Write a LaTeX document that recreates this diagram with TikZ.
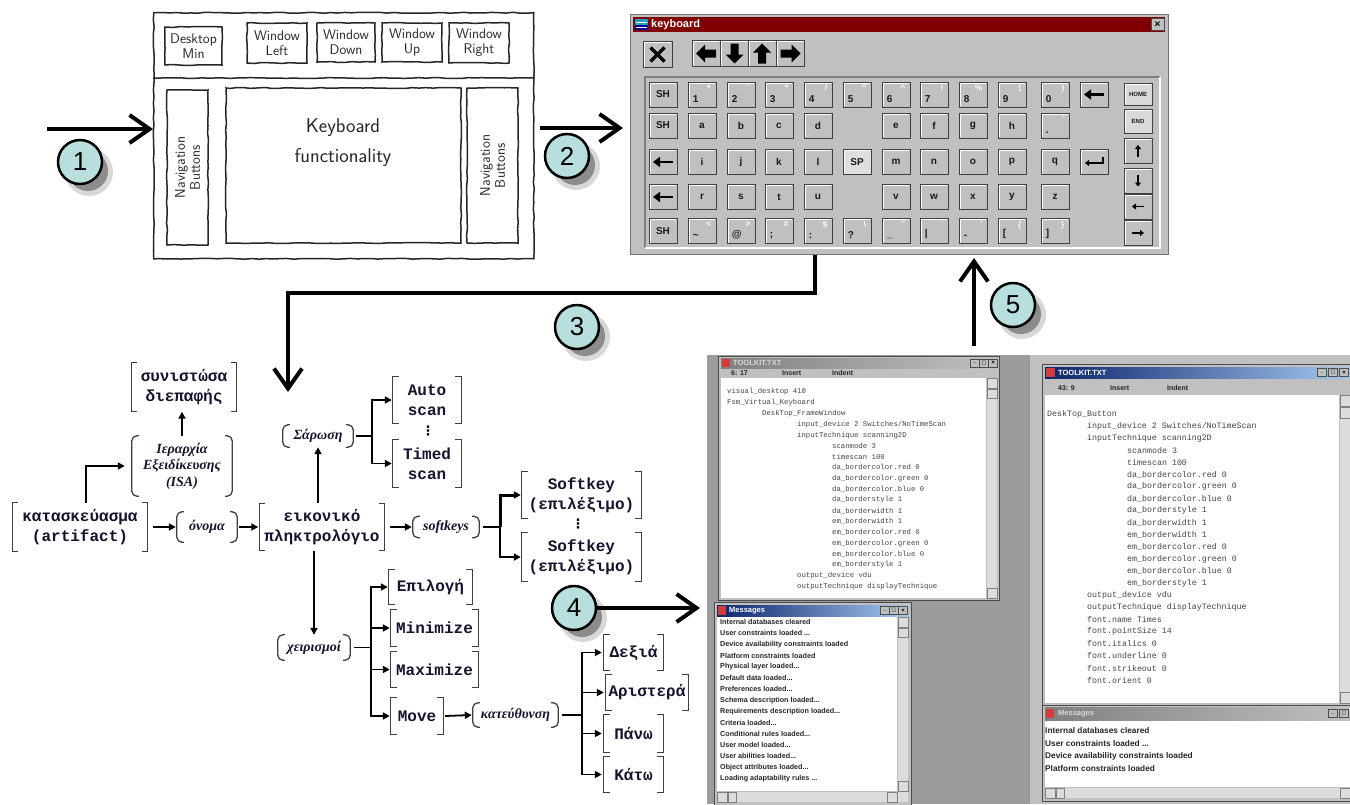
\documentclass[tikz,border=0pt]{standalone}
\usepackage{fontspec}
\usetikzlibrary{arrows.meta,decorations.pathmorphing,calc}
\newfontfamily\kbsans{Liberation Sans}
\newfontfamily\kbmono{Liberation Mono}
\newfontfamily\kbserif{Liberation Serif}
\newfontfamily\kbdejavu{DejaVu Sans}

\definecolor{kgray}{HTML}{C0C0C0}
\definecolor{kdark}{HTML}{808080}
\definecolor{titlered}{HTML}{800000}
\definecolor{numfill}{HTML}{B8DEDE}
\definecolor{treetext}{HTML}{14142E}
\definecolor{winblue}{HTML}{0A246A}
\definecolor{winblue2}{HTML}{A6CAF0}
\definecolor{codegray}{HTML}{444444}
\definecolor{shotbg}{HTML}{9C9C9C}
\definecolor{iconred}{HTML}{D23C3C}
\definecolor{iconteal}{HTML}{20A0C0}
\definecolor{scrollgray}{HTML}{DCDCDC}

\tikzset{
  sketch/.style={draw=black!85, line width=1.5pt, inner sep=1pt, decorate,
    decoration={random steps, segment length=7pt, amplitude=0.5pt}},
  hand/.style={font=\sffamily\fontsize{14}{15}\selectfont, align=center, text=black!85},
  flow/.style={line width=4pt, -{Straight Barb[length=20pt,width=28pt]}},
  numc/.style={circle, draw=black, line width=2.5pt, fill=numfill, minimum size=44pt,
    inner sep=0pt, font=\kbsans\fontsize{26}{26}\selectfont},
  key/.style={fill=kgray, draw=black!75, line width=0.8pt, minimum width=28pt,
    minimum height=25pt, inner sep=0pt,
    font=\kbsans\bfseries\fontsize{10}{10}\selectfont, text=black!90,
    path picture={\draw[white, line width=1.6pt]
      ([shift={(1pt,1pt)}]path picture bounding box.south west) |-
      ([shift={(-1pt,-1pt)}]path picture bounding box.north east);}},
  supch/.style={font=\kbsans\bfseries\fontsize{8}{8}\selectfont, text=white, inner sep=0pt},
  mainch/.style={font=\kbsans\bfseries\fontsize{10}{10}\selectfont, text=black!90, inner sep=0pt},
  karr/.style={line width=2.4pt, -{Triangle[length=7pt,width=10pt]}},
  narr/.style={line width=1.3pt, -{Triangle[length=4pt,width=6pt]}},
  tbtn/.style={fill=kgray, draw=black!70, line width=0.5pt, minimum width=9pt,
    minimum height=8pt, inner sep=0pt, font=\kbsans\bfseries\fontsize{6}{6}\selectfont},
  cbox/.style={inner sep=0pt, align=center, text=treetext,
    font=\kbmono\bfseries\fontsize{16}{20}\selectfont},
  rbox/.style={inner sep=0pt, align=center, text=treetext,
    font=\kbserif\bfseries\itshape\fontsize{14}{16.5}\selectfont},
  brk/.style={line width=1.3pt, draw=black!75},
  arr/.style={line width=1.8pt, -{Triangle[length=7pt,width=7pt]}},
  link/.style={line width=1.4pt},
  vdots/.style={inner sep=0pt, font=\kbdejavu\bfseries\fontsize{13}{13}\selectfont},
  win/.style={fill=kgray, draw=black!70, line width=0.8pt, inner sep=0pt, anchor=north west},
  codeA/.style={inner sep=0pt, text=codegray, font=\kbmono\fontsize{7.3}{8}\selectfont},
  codeB/.style={inner sep=0pt, text=codegray, font=\kbmono\fontsize{8.3}{9}\selectfont},
  msgA/.style={inner sep=0pt, text=black!85, font=\kbsans\bfseries\fontsize{7.2}{8}\selectfont},
  msgB/.style={inner sep=0pt, text=black!85, font=\kbsans\bfseries\fontsize{8.3}{9}\selectfont},
  stat/.style={inner sep=0pt, text=black!85, font=\kbsans\bfseries\fontsize{7}{8}\selectfont},
  wtitle/.style={inner sep=0pt, anchor=west, font=\kbsans\bfseries\fontsize{7.5}{8}\selectfont},
}

\newcommand\kkey[4]{\node[key] (#1) at (#2,#3) {#4};}
\newcommand\nkey[5]{%
  \node[key] (#1) at (#2,#3) {};
  \node[mainch, anchor=south west] (#1m) at ([shift={(5pt,5pt)}]#1.south west) {#4};
  \node[supch, anchor=north east] (#1s) at ([shift={(-5pt,-3pt)}]#1.north east) {#5};}
\newcommand\codeA[3]{\node[codeA, anchor=west] (ca#1) at ({727+35*#2},{392+10.8*#1}) {#3};}
\newcommand\codeB[3]{\node[codeB, anchor=west] (cb#1) at ({1047+40*#2},{414+12.1*#1}) {#3};}
\newcommand\msgA[2]{\node[msgA, anchor=west] (ma#1) at (720,{622+11.2*#1}) {#2};}
\newcommand\msgB[2]{\node[msgB, anchor=west] (mb#1) at (1045,{731+12.6*#1}) {#2};}
\newcommand\badge[4]{%
  \fill[black!25, opacity=0.6] ($(#2,#3)+(9,10)$) circle (24pt);
  \fill[black!45] ($(#2,#3)+(8,9)$) circle (20pt);
  \node[numc] (#1) at (#2,#3) {#4};}

\begin{document}
\begin{tikzpicture}[x=1pt, y=-1pt]
\useasboundingbox (0,0) rectangle (1350,804);
\fill[white] (0,0) rectangle (1350,804);

% ================= hand-drawn sketch of the layout =================
\pgfmathsetseed{11}
\node[sketch, minimum width=380pt, minimum height=246pt, anchor=north west] (sk) at (153,12) {};
\coordinate (divy) at (0,78);
\draw[sketch] (sk.west |- divy) -- (sk.east |- divy);
\node[sketch, hand, minimum width=57pt, minimum height=38pt] (dmin) at (193.5,46) {Desktop\\Min};
\node[sketch, hand, minimum width=60pt, minimum height=40pt] (wl) at (277,43) {Window\\Left};
\node[sketch, hand, minimum width=58pt, minimum height=39pt] (wd) at (346,42.5) {Window\\Down};
\node[sketch, hand, minimum width=60pt, minimum height=39pt] (wu) at (412,42.5) {Window\\Up};
\node[sketch, hand, minimum width=60pt, minimum height=40pt] (wr) at (479,43) {Window\\Right};
\node[sketch, minimum width=41pt, minimum height=155pt] (lnav) at (187.5,167.5) {};
\node[hand, rotate=90] (lnavt) at (lnav.center) {Navigation\\Buttons};
\node[sketch, minimum width=235pt, minimum height=155pt] (kb) at (343.5,165.5) {};
\node[hand, font=\sffamily\fontsize{20}{30}\selectfont] (kbt) at (343,143) {Keyboard\\functionality};
\node[sketch, minimum width=51pt, minimum height=155pt] (rnav) at (492.5,165.5) {};
\node[hand, rotate=90] (rnavt) at (rnav.center) {Navigation\\Buttons};

% ================= virtual keyboard window =================
\node[fill=kgray, draw=black!55, line width=1pt, minimum width=538pt, minimum height=240pt,
      inner sep=0pt, anchor=north west] (kbwin) at (630,14) {};
\fill[titlered] (633,17) rectangle (1165,32);
\fill[iconteal] (635,19) rectangle (648,30);
\fill[blue!60!black] (635,25) rectangle (648,30);
\draw[white, line width=0.6pt] (636,22) -- (647,22) (636,27.5) -- (647,27.5);
\node[anchor=west, text=white, font=\kbsans\bfseries\fontsize{11}{11}\selectfont, inner sep=0pt]
  (kbtitle) at (651,24.5) {keyboard};
\node[tbtn, minimum width=13pt, minimum height=12pt, font=\kbsans\bfseries\fontsize{10}{10}\selectfont]
  (kbclose) at (1157.5,24.5) {×};

% toolbar
\node[key, minimum width=29pt, minimum height=26pt] (tbx) at (657.5,54.5) {};
\draw[line width=3.2pt] ([shift={(-7pt,-7pt)}]tbx.center) -- ([shift={(7pt,7pt)}]tbx.center)
  ([shift={(-7pt,7pt)}]tbx.center) -- ([shift={(7pt,-7pt)}]tbx.center);
\node[key, minimum width=28pt, minimum height=26pt] (tbl) at (706,53.5) {};
\node[key, minimum width=28pt, minimum height=26pt] (tbd) at (734.5,53.5) {};
\node[key, minimum width=28pt, minimum height=26pt] (tbu) at (762,53.5) {};
\node[key, minimum width=28pt, minimum height=26pt] (tbr) at (790.5,53.5) {};
\foreach \b/\r in {tbl/0, tbd/90, tbu/-90, tbr/180}
  \fill[black, shift={(\b.center)}, rotate=\r] (-10pt,0pt) -- (-1pt,-9pt) -- (-1pt,-4pt)
    -- (10pt,-4pt) -- (10pt,4pt) -- (-1pt,4pt) -- (-1pt,9pt) -- cycle;

% sunken key panel
\draw[kdark, line width=1.2pt] (645,248) -- (645,77) -- (1160,77);
\draw[white, line width=1.2pt] (1160,77) -- (1160,248) -- (645,248);

% row 1
\kkey{sh1}{663}{94.5}{SH}
\nkey{kn1}{702}{94.5}{1}{+}
\nkey{kn2}{741}{94.5}{2}{-}
\nkey{kn3}{779}{94.5}{3}{*}
\nkey{kn4}{818}{94.5}{4}{/}
\nkey{kn5}{857}{94.5}{5}{=}
\nkey{kn6}{896}{94.5}{6}{\textasciicircum}
\nkey{kn7}{934}{94.5}{7}{!}
\nkey{kn8}{973}{94.5}{8}{\%}
\nkey{kn9}{1012}{94.5}{9}{(}
\nkey{kn0}{1055}{94.5}{0}{)}
\kkey{kbs}{1094}{94.5}{}
\draw[karr] ([xshift=10pt]kbs.center) -- ([xshift=-10pt]kbs.center);
% row 2
\kkey{sh2}{663}{125.5}{SH}
\kkey{ka}{702}{125.5}{a}
\kkey{kb2}{741}{125.5}{b}
\kkey{kc}{779}{125.5}{c}
\kkey{kd}{818}{125.5}{d}
\kkey{ke}{896}{125.5}{e}
\kkey{kf}{934}{125.5}{f}
\kkey{kg}{973}{125.5}{g}
\kkey{kh}{1012}{125.5}{h}
\nkey{kdot}{1055}{125.5}{.}{'}
% row 3
\kkey{kl3}{663}{162}{}
\draw[karr] ([xshift=10pt]kl3.center) -- ([xshift=-10pt]kl3.center);
\kkey{ki}{702}{162}{i}
\kkey{kj}{741}{162}{j}
\kkey{kk}{779}{162}{k}
\kkey{kl}{818}{162}{l}
\node[key, fill=kgray!50!white] (ksp) at (857,162) {SP};
\kkey{km}{896}{162}{m}
\kkey{kn}{934}{162}{n}
\kkey{ko}{973}{162}{o}
\kkey{kp}{1012}{162}{p}
\kkey{kq}{1055}{162}{q}
\kkey{kent}{1094}{162}{}
\draw[narr] ([shift={(9pt,5pt)}]kent.center) -- ([shift={(9pt,-1pt)}]kent.center)
  -- ([shift={(-9pt,-1pt)}]kent.center);
% row 4
\kkey{kl4}{663}{197}{}
\draw[karr] ([xshift=10pt]kl4.center) -- ([xshift=-10pt]kl4.center);
\kkey{kr}{702}{197}{r}
\kkey{ks}{741}{197}{s}
\kkey{kt}{779}{197}{t}
\kkey{ku}{818}{197}{u}
\kkey{kv}{896}{197}{v}
\kkey{kw}{934}{197}{w}
\kkey{kx}{973}{197}{x}
\kkey{ky}{1012}{197}{y}
\kkey{kz}{1055}{197}{z}
% row 5
\kkey{sh5}{663}{231}{SH}
\nkey{ktil}{702}{231}{\textasciitilde}{<}
\nkey{kat}{741}{231}{@}{>}
\nkey{ksem}{779}{231}{;}{\#}
\nkey{kcol}{818}{231}{:}{\$}
\nkey{kque}{857}{231}{?}{\textbackslash}
\nkey{kund}{896}{231}{\_}{"}
\nkey{kbar}{934}{231}{|}{`}
\nkey{kmin}{973}{231}{-}{'}
\nkey{klb}{1012}{231}{[}{\{}
\nkey{krb}{1055}{231}{]}{\}}
% navigation column
\node[key, minimum height=22pt, fill=kgray!60!white, font=\kbsans\bfseries\fontsize{6}{6}\selectfont] (khome) at (1138,94) {HOME};
\node[key, minimum height=24pt, fill=kgray!60!white, font=\kbsans\bfseries\fontsize{6}{6}\selectfont] (kend) at (1138,121) {END};
\kkey{kup}{1138}{151}{}
\kkey{kdn}{1138}{180.5}{}
\kkey{klt}{1138}{206.5}{}
\kkey{krt}{1138}{233}{}
\draw[narr] ([yshift=-6pt]kup.center) -- ([yshift=6pt]kup.center);
\draw[narr] ([yshift=6pt]kdn.center) -- ([yshift=-6pt]kdn.center);
\draw[narr] ([xshift=6pt]klt.center) -- ([xshift=-6pt]klt.center);
\draw[narr] ([xshift=-6pt]krt.center) -- ([xshift=6pt]krt.center);

% ================= concept tree =================
\node[cbox, minimum width=105pt, minimum height=49pt] (syn) at (184,387) {συνιστώσα\\διεπαφής};
\node[rbox, minimum width=100pt, minimum height=60pt] (isa) at (182,466) {Ιεραρχία\\Εξειδίκευσης\\(ISA)};
\node[cbox, minimum width=135pt, minimum height=48pt] (art) at (80,527) {κατασκεύασμα\\(artifact)};
\node[rbox, minimum width=60pt, minimum height=30pt] (onoma) at (207,527) {όνομα};
\node[cbox, minimum width=125pt, minimum height=47pt] (vk) at (322,527) {εικονικό\\πληκτρολόγιο};
\node[rbox, minimum width=70pt, minimum height=22pt] (sar) at (318,436) {Σάρωση};
\node[cbox, minimum width=68pt, minimum height=46pt] (auto) at (427,400) {Auto\\scan};
\node[cbox, minimum width=68pt, minimum height=47pt] (timed) at (427,463.5) {Timed\\scan};
\node[vdots] (dots1) at (428,431) {⋮};
\node[rbox, minimum width=66pt, minimum height=21pt] (soft) at (446,527) {softkeys};
\node[cbox, minimum width=119pt, minimum height=46pt] (sk1) at (581.5,495) {Softkey\\(επιλέξιμο)};
\node[cbox, minimum width=119pt, minimum height=48pt] (sk2) at (581.5,557) {Softkey\\(επιλέξιμο)};
\node[vdots] (dots2) at (578,524) {⋮};
\node[rbox, minimum width=72pt, minimum height=25pt] (xeir) at (314,647.5) {χειρισμοί};
\node[cbox, minimum width=83pt, minimum height=34pt] (epi) at (430.5,587) {Επιλογή};
\node[cbox, minimum width=87pt, minimum height=36pt] (min) at (434.5,628) {Minimize};
\node[cbox, minimum width=87pt, minimum height=35pt] (max) at (434.5,669.5) {Maximize};
\node[cbox, minimum width=52pt, minimum height=36pt] (move) at (417,716) {Move};
\node[rbox, minimum width=85pt, minimum height=24pt] (kat) at (515.5,715) {κατεύθυνση};
\node[cbox, minimum width=59pt, minimum height=35pt] (dex) at (633.5,652.5) {Δεξιά};
\node[cbox, minimum width=82pt, minimum height=35pt] (ari) at (647,692.5) {Αριστερά};
\node[cbox, minimum width=59pt, minimum height=37pt] (pan) at (633.5,733.5) {Πάνω};
\node[cbox, minimum width=59pt, minimum height=35pt] (kato) at (633.5,774.5) {Κάτω};

% square brackets round the concepts
\foreach \n in {syn,art,vk,auto,timed,sk1,sk2,epi,min,max,move,dex,ari,pan,kato}{
  \draw[brk] ([xshift=6pt]\n.north west) -| (\n.south west) -- ++(6pt,0pt);
  \draw[brk] ([xshift=-6pt]\n.north east) -| (\n.south east) -- ++(-6pt,0pt);
}
% round brackets round the relations
\foreach \n in {isa,onoma,sar,soft,xeir,kat}{
  \draw[brk, rounded corners=5pt] ([xshift=7pt]\n.north west) -| (\n.south west) -- ++(7pt,0pt);
  \draw[brk, rounded corners=5pt] ([xshift=-7pt]\n.north east) -| (\n.south east) -- ++(-7pt,0pt);
}

% tree connectors
\draw[arr] (isa.north) -- (isa.north |- syn.south);
\draw[arr] ([xshift=6pt]art.north) |- ([xshift=-7pt]isa.west);
\draw[arr] ([xshift=5pt]art.east) -- ([xshift=-1pt]onoma.west);
\draw[arr] ([xshift=2pt]onoma.east) -- ([xshift=-1pt]vk.west);
\draw[arr] (vk.north -| sar.south) -- (sar.south);
\coordinate (jsar) at ([xshift=19pt]sar.east);
\draw[link] ([xshift=3pt]sar.east) -- (jsar);
\draw[arr] (jsar) |- ([xshift=-1pt]auto.west);
\draw[arr] (jsar) |- ([xshift=-1pt]timed.west);
\draw[arr] ([xshift=5pt]vk.east) -- ([xshift=-1pt]soft.west);
\coordinate (jsoft) at ([xshift=21pt]soft.east);
\draw[link] ([xshift=4pt]soft.east) -- (jsoft);
\draw[arr, line width=3pt] (jsoft) |- ([xshift=-1pt]sk1.west);
\draw[arr] (jsoft) |- ([xshift=-1pt]sk2.west);
\draw[arr] (vk.south -| xeir.north) -- (xeir.north);
\coordinate (jx) at ([xshift=21pt]xeir.east);
\draw[link] ([xshift=4pt]xeir.east) -- (jx);
\foreach \t in {epi,min,max,move} \draw[arr] (jx) |- ([xshift=-1pt]\t.west);
\draw[arr] ([xshift=2pt]move.east) -- ([xshift=-1pt]kat.west);
\coordinate (jk) at ([xshift=24pt]kat.east);
\draw[link] ([xshift=4pt]kat.east) -- (jk);
\foreach \t in {dex,ari,pan,kato} \draw[arr] (jk) |- ([xshift=-2pt]\t.west);

% ================= screenshot: specification file + messages =================
\fill[shotbg] (707,355) rectangle (1030,804);
\node[win, minimum width=281pt, minimum height=244pt] (tk1) at (718,356) {};
\shade[left color=kdark, right color=kgray] (721,358) rectangle (996,368);
\fill[iconred] (722,359) rectangle (730,367);
\node[wtitle, text=kgray!60!white] (tk1t) at (733,363) {TOOLKIT.TXT};
\node[tbtn] (tk1b1) at (975,363) {\_};
\node[tbtn] (tk1b2) at (984,363) {\kbdejavu\fontsize{5}{5}\selectfont □};
\node[tbtn] (tk1b3) at (993,363) {×};
\node[stat, anchor=west] (tk1s1) at (731,373) {6: 17};
\node[stat, anchor=west] (tk1s2) at (782,373) {Insert};
\node[stat, anchor=west] (tk1s3) at (832,373) {Indent};
\fill[white] (721,378) rectangle (986,598);
\fill[scrollgray] (987,378) rectangle (997,598);
\draw[kdark, line width=0.5pt] (987,378) rectangle (997,388) (987,389) rectangle (997,398) (987,588) rectangle (997,598);
\codeA{0}{0}{visual\_desktop 410}
\codeA{1}{0}{Fsm\_Virtual\_Keyboard}
\codeA{2}{1}{DeskTop\_FrameWindow}
\codeA{3}{2}{input\_device 2 Switches/NoTimeScan}
\codeA{4}{2}{inputTechnique scanning2D}
\codeA{5}{3}{scanmode 3}
\codeA{6}{3}{timescan 100}
\codeA{7}{3}{da\_bordercolor.red 0}
\codeA{8}{3}{da\_bordercolor.green 0}
\codeA{9}{3}{da\_bordercolor.blue 0}
\codeA{10}{3}{da\_borderstyle 1}
\codeA{11}{3}{da\_borderwidth 1}
\codeA{12}{3}{em\_borderwidth 1}
\codeA{13}{3}{em\_bordercolor.red 0}
\codeA{14}{3}{em\_bordercolor.green 0}
\codeA{15}{3}{em\_bordercolor.blue 0}
\codeA{16}{3}{em\_borderstyle 1}
\codeA{17}{2}{output\_device vdu}
\codeA{18}{2}{outputTechnique displayTechnique}

\node[win, minimum width=197pt, minimum height=204pt] (msg1) at (714,602) {};
\shade[left color=winblue, right color=winblue2] (717,605) rectangle (908,616);
\fill[iconred] (718,606) rectangle (726,615);
\node[wtitle, text=white] (msg1t) at (729,610.5) {Messages};
\node[tbtn] (m1b1) at (885,610.5) {\_};
\node[tbtn] (m1b2) at (894,610.5) {\kbdejavu\fontsize{5}{5}\selectfont □};
\node[tbtn] (m1b3) at (903,610.5) {×};
\fill[white] (717,617) rectangle (897,791);
\fill[scrollgray] (898,617) rectangle (908,791);
\fill[scrollgray] (717,792) rectangle (908,802);
\draw[kdark, line width=0.5pt] (898,617) rectangle (908,627) (898,628) rectangle (908,637)
  (898,781) rectangle (908,791) (717,792) rectangle (727,802) (728,792) rectangle (736,802)
  (887,792) rectangle (897,802);
\msgA{0}{Internal databases cleared}
\msgA{1}{User constraints loaded ...}
\msgA{2}{Device availability constraints loaded}
\msgA{3}{Platform constraints loaded}
\msgA{4}{Physical layer loaded...}
\msgA{5}{Default data loaded...}
\msgA{6}{Preferences loaded...}
\msgA{7}{Schema description loaded...}
\msgA{8}{Requirements description loaded...}
\msgA{9}{Criteria loaded...}
\msgA{10}{Conditional rules loaded...}
\msgA{11}{User model loaded...}
\msgA{12}{User abilities loaded...}
\msgA{13}{Object attributes loaded...}
\msgA{14}{Loading adaptability rules ...}

% second screenshot
\fill[kgray] (1030,355) rectangle (1350,804);
\node[win, minimum width=312pt, minimum height=341pt] (tk2) at (1042,364) {};
\shade[left color=winblue, right color=winblue2] (1045,367) rectangle (1352,378);
\fill[iconred] (1046,368) rectangle (1055,377);
\node[wtitle, text=white] (tk2t) at (1058,372.5) {TOOLKIT.TXT};
\node[tbtn] (tk2b1) at (1322,372.5) {\_};
\node[tbtn] (tk2b2) at (1333,372.5) {\kbdejavu\fontsize{5}{5}\selectfont □};
\node[tbtn] (tk2b3) at (1344,372.5) {×};
\node[stat, anchor=west] (tk2s1) at (1058,388) {43: 9};
\node[stat, anchor=west] (tk2s2) at (1110,388) {Insert};
\node[stat, anchor=west] (tk2s3) at (1167,388) {Indent};
\fill[white] (1045,395) rectangle (1339,703);
\fill[scrollgray] (1340,395) rectangle (1352,703);
\draw[kdark, line width=0.5pt] (1340,395) rectangle (1352,406) (1340,407) rectangle (1352,418)
  (1340,692) rectangle (1352,703);
\codeB{0}{0}{DeskTop\_Button}
\codeB{1}{1}{input\_device 2 Switches/NoTimeScan}
\codeB{2}{1}{inputTechnique scanning2D}
\codeB{3}{2}{scanmode 3}
\codeB{4}{2}{timescan 100}
\codeB{5}{2}{da\_bordercolor.red 0}
\codeB{6}{2}{da\_bordercolor.green 0}
\codeB{7}{2}{da\_bordercolor.blue 0}
\codeB{8}{2}{da\_borderstyle 1}
\codeB{9}{2}{da\_borderwidth 1}
\codeB{10}{2}{em\_borderwidth 1}
\codeB{11}{2}{em\_bordercolor.red 0}
\codeB{12}{2}{em\_bordercolor.green 0}
\codeB{13}{2}{em\_bordercolor.blue 0}
\codeB{14}{2}{em\_borderstyle 1}
\codeB{15}{1}{output\_device vdu}
\codeB{16}{1}{outputTechnique displayTechnique}
\codeB{17}{1}{font.name Times}
\codeB{18}{1}{font.pointSize 14}
\codeB{19}{1}{font.italics 0}
\codeB{20}{1}{font.underline 0}
\codeB{21}{1}{font.strikeout 0}
\codeB{22}{1}{font.orient 0}

\node[win, minimum width=312pt, minimum height=96pt] (msg2) at (1042,705) {};
\shade[left color=kdark, right color=kgray] (1045,707) rectangle (1352,720);
\fill[iconred] (1046,709) rectangle (1054,718);
\node[wtitle, text=kgray!60!white] (msg2t) at (1058,713.5) {Messages};
\node[tbtn] (m2b1) at (1333,713.5) {\_};
\node[tbtn] (m2b2) at (1344,713.5) {\kbdejavu\fontsize{5}{5}\selectfont □};
\fill[white] (1045,721) rectangle (1352,787);
\fill[scrollgray] (1045,788) rectangle (1352,798);
\draw[kdark, line width=0.5pt] (1045,788) rectangle (1055,798) (1056,788) rectangle (1064,798)
  (1340,788) rectangle (1350,798);
\msgB{0}{Internal databases cleared}
\msgB{1}{User constraints loaded ...}
\msgB{2}{Device availability constraints loaded}
\msgB{3}{Platform constraints loaded}

% ================= numbered flow arrows =================
\coordinate (a1s) at (47,129);
\draw[flow] (a1s) -- (a1s -| sk.west);
\badge{b1}{80}{162}{1}

\coordinate (a2s) at (540,128);
\draw[flow] (a2s) -- ($(a2s -| kbwin.west)+(-7,0)$);
\badge{b2}{567}{156}{2}

\coordinate (a3b) at (815,293);
\coordinate (a3e) at (288,392);
\draw[flow] (kbwin.south -| a3b) -- (a3b) -| (a3e);
\badge{b3}{577}{327}{3}

\coordinate (a4e) at (700,608);
\badge{b4}{574}{608}{4}
\draw[flow] (b4.east) -- (a4e);

\coordinate (a5s) at (974,346);
\draw[flow] (a5s) -- ($(a5s |- kbwin.south)+(0,3)$);
\badge{b5}{1013}{305}{5}
\end{tikzpicture}
\end{document}
